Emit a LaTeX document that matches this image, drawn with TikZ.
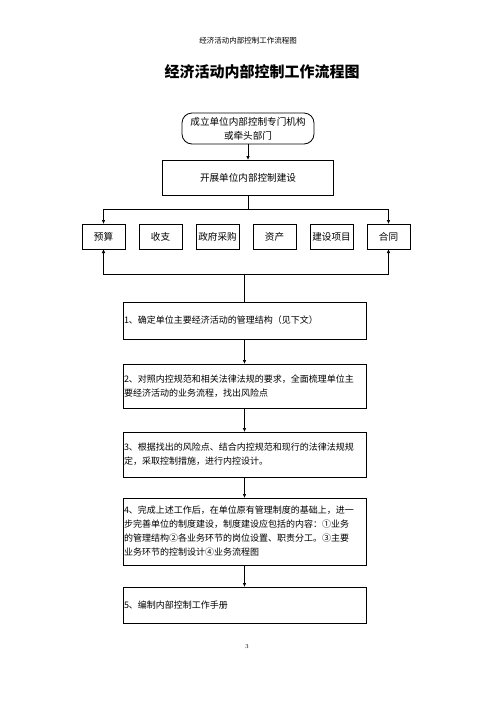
\documentclass[tikz,border=0pt]{standalone}
\usepackage{fontspec}
\newfontfamily\cjk{Noto Sans CJK SC}
\usetikzlibrary{arrows.meta,positioning}

\begin{document}
\begin{tikzpicture}[x=1pt, y=-1pt,
		txt/.style={font=\cjk\fontsize{9.6}{14}\selectfont},
		block/.style={txt, draw, thick, minimum height=25pt, minimum width=43pt, inner sep=1pt, outer sep=0pt},
		stepbox/.style={font=\cjk\fontsize{9}{14}\selectfont, draw, thick, text width=241pt, align=left, inner sep=1pt, outer sep=0pt},
		link/.style={line width=0.7pt},
		tip/.style={link, -{Latex[length=4pt, width=3.5pt]}},
	]
		\useasboundingbox (0,0) rectangle (496,702);
		\node (head) at (248,41) {\cjk\fontsize{7.5}{9}\selectfont 经济活动内部控制工作流程图};
		\node (title) at (262,72) {\cjk\bfseries\fontsize{15}{18}\selectfont 经济活动内部控制工作流程图};
		
		\node (start) [txt, draw, thick, rounded corners=10pt, minimum width=132pt, minimum height=31pt, align=center, inner sep=1pt, outer sep=0pt] at (248,128.5) {成立单位内部控制专门机构\\或牵头部门};
		\node (build) [txt, draw, thick, minimum width=171pt, minimum height=35pt, outer sep=0pt, below=16pt of start] {开展单位内部控制建设};
		
		\node (ys) [block] at (103.5,236.5) {预算};
		\node (sz) [block, right=14pt of ys] {收支};
		\node (cg) [block, right=14pt of sz] {政府采购};
		\node (zc) [block, right=14pt of cg] {资产};
		\node (xm) [block, right=14pt of zc] {建设项目};
		\node (ht) [block, right=14pt of xm] {合同};
		
		\node (s1) [stepbox, minimum height=37pt] at (244.5,320.5) {1、确定单位主要经济活动的管理结构（见下文）};
		\node (s2) [stepbox, minimum height=44pt, below=25pt of s1] {2、对照内控规范和相关法律法规的要求，全面梳理单位主\\要经济活动的业务流程，找出风险点};
		\node (s3) [stepbox, minimum height=45pt, below=24pt of s2] {3、根据找出的风险点、结合内控规范和现行的法律法规规\\定，采取控制措施，进行内控设计。};
		\node (s4) [stepbox, minimum height=67pt, below=21pt of s3] {4、完成上述工作后，在单位原有管理制度的基础上，进一\\步完善单位的制度建设，制度建设应包括的内容：①业务\\的管理结构②各业务环节的岗位设置、职责分工。③主要\\业务环节的控制设计④业务流程图};
		\node (s5) [stepbox, minimum height=36pt, below=22pt of s4] {5、编制内部控制工作手册};
		
		\node (page) at (247,647) {\fontsize{6}{7}\selectfont 3};
		
		\coordinate (split) at (248,209);
		\coordinate (merge) at (244.5,274);
		
		\draw[tip] (start) -- (build);
		\draw[tip] (build.south) -- (split) -| (ys.north);
		\draw[tip] (split) -| (ht.north);
		
		\draw[link] (s1.north) -- (merge);
		\draw[tip] (merge) -| (ys.south);
		\draw[tip] (merge) -| (ht.south);
		
		\draw[tip] (s1) -- (s2);
		\draw[tip] (s2) -- (s3);
		\draw[tip] (s3) -- (s4);
		\draw[tip] (s4) -- (s5);
	\end{tikzpicture}
\end{document}
